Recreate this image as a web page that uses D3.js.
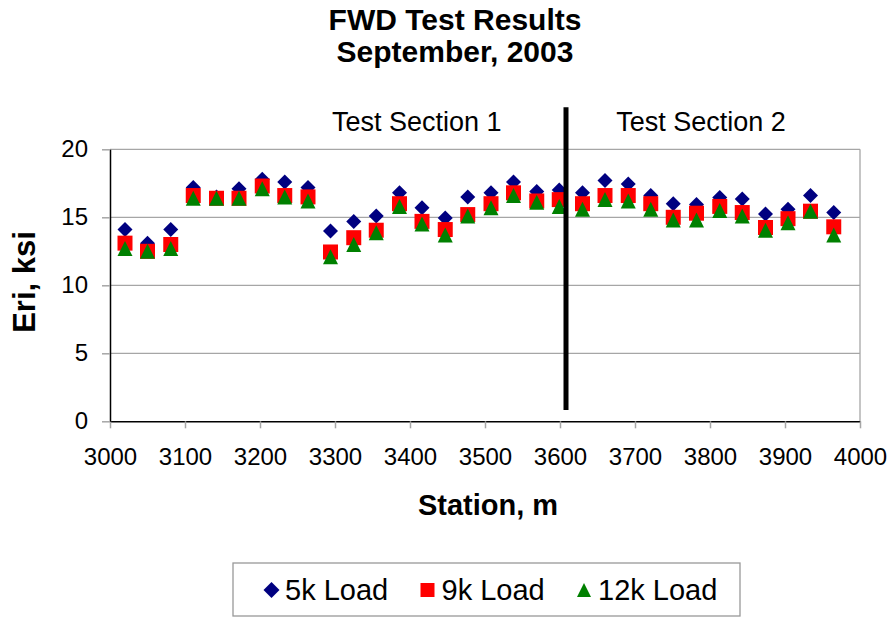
<!DOCTYPE html>
<html>
<head>
<meta charset="utf-8">
<script src="https://cdn.jsdelivr.net/npm/d3@7"></script>
<style>
  html, body { margin: 0; padding: 0; background: #fff; }
  svg { display: block; font-family: "Liberation Sans", Arial, sans-serif; }
</style>
</head>
<body>
<svg id="chart" width="892" height="617"></svg>
<script>
// ---- Data ----
const stations = [3020,3050,3081,3111,3142,3172,3203,3233,3264,3294,3325,3355,3386,3416,3447,3477,
                  3508,3538,3569,3599,3630,3660,3691,3721,3751,3782,3813,3843,3874,3904,3934,3965];
const load5  = [14.1,13.1,14.1,17.2,16.5,17.1,17.8,17.6,17.2,14.0,14.7,15.1,16.8,15.7,14.95,16.5,
                16.8,17.6,16.9,17.0,16.8,17.7,17.45,16.6,16.0,15.95,16.45,16.35,15.25,15.6,16.6,15.35];
const load9  = [13.1,12.5,13.0,16.6,16.4,16.4,17.3,16.6,16.5,12.45,13.5,14.05,16.0,14.7,14.1,15.2,
                16.0,16.8,16.2,16.3,16.0,16.6,16.6,16.0,15.0,15.3,15.8,15.35,14.25,14.9,15.45,14.3];
const load12 = [12.7,12.5,12.7,16.4,16.4,16.4,17.1,16.5,16.2,12.1,13.0,13.86,15.8,14.5,13.7,15.1,
                15.7,16.6,16.1,15.8,15.6,16.3,16.2,15.6,14.8,14.8,15.5,15.1,14.05,14.6,15.45,13.7];
const seriesNames = ["5k Load", "9k Load", "12k Load"];
const xTicks = [3000,3100,3200,3300,3400,3500,3600,3700,3800,3900,4000];
const yTicks = [0,5,10,15,20];
const sectionBoundary = 3608;
const sectionLine = [0.83, 23.1];
const sectionLabels = ["Test Section 1", "Test Section 2"];
const sectionLabelStations = [3409, 3788];

// ---- Layout ----
const svg = d3.select("#chart");
const x = d3.scaleLinear().domain([3000, 4000]).range([110, 860]);
const y = d3.scaleLinear().domain([0, 20]).range([421.3, 149.3]);

// Gridlines
svg.append("g").selectAll("line").data(yTicks.filter(d => d > 0)).join("line")
  .attr("x1", x(3000)).attr("x2", x(4000))
  .attr("y1", d => y(d)).attr("y2", d => y(d))
  .attr("stroke", "#a6a6a6").attr("stroke-width", 1.3);
// right border
svg.append("line").attr("x1", x(4000)).attr("x2", x(4000)).attr("y1", y(20)).attr("y2", y(0))
  .attr("stroke", "#a6a6a6").attr("stroke-width", 1.3);

// X axis
const xAxis = d3.axisBottom(x).tickValues(xTicks).tickFormat(d3.format("d"))
  .tickSize(7).tickPadding(20).tickSizeOuter(0);
const gx = svg.append("g").attr("transform", `translate(0,${y(0)})`).call(xAxis);
gx.select(".domain").attr("stroke", "#000").attr("stroke-width", 1.5);
gx.selectAll(".tick line").attr("stroke", "#a6a6a6").attr("stroke-width", 1.5);
gx.selectAll(".tick text").attr("font-size", 24).attr("fill", "#000")
  .attr("font-family", "'Liberation Sans', Arial, sans-serif");

// Y axis
const yAxis = d3.axisLeft(y).tickValues(yTicks).tickSize(8).tickPadding(14).tickSizeOuter(0);
const gy = svg.append("g").attr("transform", `translate(${x(3000)},0)`).call(yAxis);
gy.select(".domain").attr("stroke", "#000").attr("stroke-width", 1.5);
gy.selectAll(".tick line").attr("stroke", "#a6a6a6").attr("stroke-width", 1.5);
gy.selectAll(".tick text").attr("font-size", 24).attr("fill", "#000")
  .attr("font-family", "'Liberation Sans', Arial, sans-serif");

// Markers
const diamond = (s) => `M0,${-s/2}L${s/2},0L0,${s/2}L${-s/2},0Z`;
const square = (s) => `M${-s/2},${-s/2}H${s/2}V${s/2}H${-s/2}Z`;
const triangle = (w, h) => `M0,${-h/2}L${w/2},${h/2}L${-w/2},${h/2}Z`;

const series = [
  { vals: load5,  color: "#000080", path: diamond(15) },
  { vals: load9,  color: "#ff0000", path: square(15) },
  { vals: load12, color: "#008000", path: triangle(15, 15) }
];
series.forEach(s => {
  svg.append("g").selectAll("path").data(stations.map((st, i) => [st, s.vals[i]])).join("path")
    .attr("transform", d => `translate(${x(d[0])},${y(d[1])})`)
    .attr("d", s.path).attr("fill", s.color);
});

// Section divider
svg.append("line")
  .attr("x1", x(sectionBoundary)).attr("x2", x(sectionBoundary))
  .attr("y1", y(sectionLine[1])).attr("y2", y(sectionLine[0]))
  .attr("stroke", "#000").attr("stroke-width", 5);

// Section labels
svg.append("g").selectAll("text").data(sectionLabels).join("text")
  .attr("x", (d, i) => x(sectionLabelStations[i])).attr("y", 131)
  .attr("text-anchor", "middle").attr("font-size", 27).text(d => d);

// Title
svg.append("text").attr("x", 455).attr("y", 30).attr("text-anchor", "middle")
  .attr("font-size", 30).attr("font-weight", "bold").text("FWD Test Results");
svg.append("text").attr("x", 455).attr("y", 62).attr("text-anchor", "middle")
  .attr("font-size", 30).attr("font-weight", "bold").text("September, 2003");

// Axis titles
svg.append("text").attr("x", 488).attr("y", 515).attr("text-anchor", "middle")
  .attr("font-size", 29).attr("font-weight", "bold").text("Station, m");
svg.append("text").attr("transform", "translate(35,282) rotate(-90)").attr("text-anchor", "middle")
  .attr("font-size", 31).attr("font-weight", "bold").text("Eri, ksi");

// Legend
const lg = svg.append("g");
lg.append("rect").attr("x", 233).attr("y", 563).attr("width", 507).attr("height", 53)
  .attr("fill", "#fff").attr("stroke", "#999").attr("stroke-width", 1.3);
const legendMarkers = [diamond(16), square(14), triangle(14, 14)];
const legendMarkerX = [271.5, 427.5, 584];
const legendTextX = [285, 441.5, 598];
seriesNames.forEach((name, i) => {
  lg.append("path").attr("transform", `translate(${legendMarkerX[i]},590)`)
    .attr("d", legendMarkers[i]).attr("fill", series[i].color);
  lg.append("text").attr("x", legendTextX[i]).attr("y", 599.5).attr("font-size", 29).text(name);
});
</script>
</body>
</html>
